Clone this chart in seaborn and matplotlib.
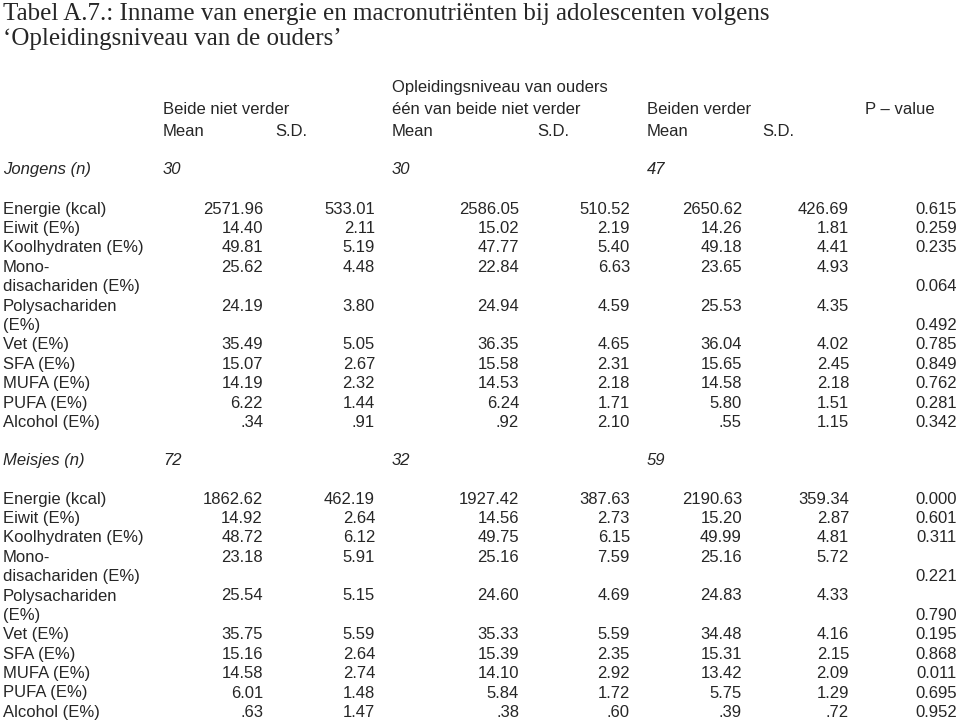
import matplotlib.pyplot as plt
import seaborn as sns

# table content
title = ["Tabel A.7.: Inname van energie en macronutriënten bij adolescenten volgens",
         "\u2018Opleidingsniveau van de ouders\u2019"]
groups = ["Beide niet verder", "één van beide niet verder", "Beiden verder"]
supergroup = "Opleidingsniveau van ouders"
labels = ["Energie (kcal)", "Eiwit (E%)", "Koolhydraten (E%)", "Mono-\ndisachariden (E%)",
          "Polysachariden\n(E%)", "Vet (E%)", "SFA (E%)", "MUFA (E%)", "PUFA (E%)", "Alcohol (E%)"]

jongens_n = ["30", "30", "47"]
jongens_mean1 = ["2571.96", "14.40", "49.81", "25.62", "24.19", "35.49", "15.07", "14.19", "6.22", ".34"]
jongens_sd1 = ["533.01", "2.11", "5.19", "4.48", "3.80", "5.05", "2.67", "2.32", "1.44", ".91"]
jongens_mean2 = ["2586.05", "15.02", "47.77", "22.84", "24.94", "36.35", "15.58", "14.53", "6.24", ".92"]
jongens_sd2 = ["510.52", "2.19", "5.40", "6.63", "4.59", "4.65", "2.31", "2.18", "1.71", "2.10"]
jongens_mean3 = ["2650.62", "14.26", "49.18", "23.65", "25.53", "36.04", "15.65", "14.58", "5.80", ".55"]
jongens_sd3 = ["426.69", "1.81", "4.41", "4.93", "4.35", "4.02", "2.45", "2.18", "1.51", "1.15"]
jongens_p = ["0.615", "0.259", "0.235", "0.064", "0.492", "0.785", "0.849", "0.762", "0.281", "0.342"]

meisjes_n = ["72", "32", "59"]
meisjes_mean1 = ["1862.62", "14.92", "48.72", "23.18", "25.54", "35.75", "15.16", "14.58", "6.01", ".63"]
meisjes_sd1 = ["462.19", "2.64", "6.12", "5.91", "5.15", "5.59", "2.64", "2.74", "1.48", "1.47"]
meisjes_mean2 = ["1927.42", "14.56", "49.75", "25.16", "24.60", "35.33", "15.39", "14.10", "5.84", ".38"]
meisjes_sd2 = ["387.63", "2.73", "6.15", "7.59", "4.69", "5.59", "2.35", "2.92", "1.72", ".60"]
meisjes_mean3 = ["2190.63", "15.20", "49.99", "25.16", "24.83", "34.48", "15.31", "13.42", "5.75", ".39"]
meisjes_sd3 = ["359.34", "2.87", "4.81", "5.72", "4.33", "4.16", "2.15", "2.09", "1.29", ".72"]
meisjes_p = ["0.000", "0.601", "0.311", "0.221", "0.790", "0.195", "0.868", "0.011", "0.695", "0.952"]

sns.set_style("white")
plt.rcParams['font.family'] = ['Liberation Sans', 'DejaVu Sans']

fig = plt.figure(figsize=(9.6, 7.25), dpi=100)
ax = fig.add_axes([0, 0, 1, 1])
ax.set_xlim(0, 960)
ax.set_ylim(725, 0)
ax.axis('off')

fs = 12
col_left = [163, 392, 647]          # group column starts
mean_right = [263, 519, 742]
sd_right = [375, 630, 849]
p_right = 957
line = 19.4

# title
for i, t in enumerate(title):
    ax.text(3, 20 + i * 25, t, family='Liberation Serif', fontsize=18, va='baseline', ha='left')

# header
ax.text(col_left[1], 87, supergroup, fontsize=fs, va='center')
for x, g in zip(col_left, groups):
    ax.text(x, 109, g, fontsize=fs, va='center')
    ax.text(x, 131, "Mean", fontsize=fs, va='center')
ax.text(865, 109, "P \u2013 value", fontsize=fs, va='center')
for x in [275, 537, 762]:
    ax.text(x, 131, "S.D.", fontsize=fs, va='center')


def draw_block(name, n, means, sds, pvals, y_n, y0):
    ax.text(3, y_n, name, fontsize=fs, style='italic', va='center')
    for x, v in zip(col_left, n):
        ax.text(x, y_n, v, fontsize=fs, style='italic', va='center')
    idx = 0
    for r, lab in enumerate(labels):
        nlines = lab.count("\n") + 1
        y = y0 + idx * line
        for k, lab_line in enumerate(lab.split("\n")):
            ax.text(3, y + k * line, lab_line, fontsize=fs, va='center')
        for g in range(3):
            ax.text(mean_right[g], y, means[g][r], fontsize=fs, va='center', ha='right')
            ax.text(sd_right[g], y, sds[g][r], fontsize=fs, va='center', ha='right')
        ax.text(p_right, y + (nlines - 1) * line, pvals[r], fontsize=fs, va='center', ha='right')
        idx += nlines


draw_block("Jongens (n)", jongens_n,
           [jongens_mean1, jongens_mean2, jongens_mean3],
           [jongens_sd1, jongens_sd2, jongens_sd3], jongens_p, 169, 209)
draw_block("Meisjes (n)", meisjes_n,
           [meisjes_mean1, meisjes_mean2, meisjes_mean3],
           [meisjes_sd1, meisjes_sd2, meisjes_sd3], meisjes_p, 460, 499)

fig.savefig("out.png", dpi=100, facecolor='white')
